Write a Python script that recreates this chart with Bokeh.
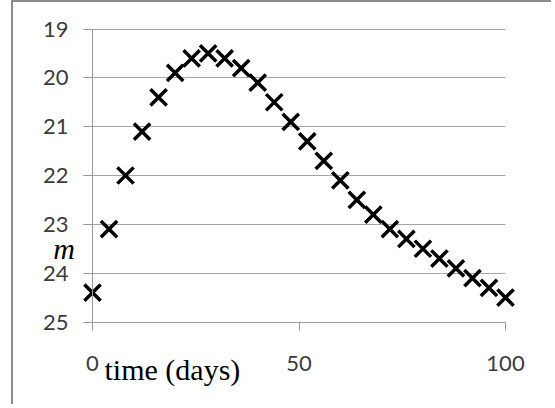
from bokeh.plotting import figure
from bokeh.models import Range1d, FixedTicker, Label, LinearAxis, BoxAnnotation
from bokeh.embed import file_html
from bokeh.resources import INLINE

# data
days = [0, 4, 8, 12, 16, 20, 24, 28, 32, 36, 40, 44, 48, 52, 56, 60,
        64, 68, 72, 76, 80, 84, 88, 92, 96, 100]
mags = [24.4, 23.1, 22.0, 21.1, 20.4, 19.9, 19.6, 19.5, 19.6, 19.8, 20.1,
        20.5, 20.9, 21.3, 21.7, 22.1, 22.5, 22.8, 23.1, 23.3, 23.5, 23.7,
        23.9, 24.1, 24.3, 24.5]
y_ticks = [19, 20, 21, 22, 23, 24, 25]
x_ticks = [0, 50, 100]
x_title = "time (days)"
y_title = "m"

AXIS = "#999999"
GRID = "#a6a6a6"
TXT = "#3b3b3b"

# layout: the frame fills the whole canvas so that the end markers and the
# titles are not clipped; axes are pinned at day 0 and magnitude 25.
W, H = 540, 404
X_LO, X_HI = 0, 100          # axis extent (data)
Y_LO, Y_HI = 19, 25
x_lo_px, x_hi_px = 79.0, 492.0   # canvas px of X_LO / X_HI
y_lo_px, y_hi_px = 26.5, 319.5   # canvas px of Y_LO / Y_HI
sx = (x_hi_px - x_lo_px) / (X_HI - X_LO)
sy = (y_hi_px - y_lo_px) / (Y_HI - Y_LO)
x_range = Range1d(X_LO - x_lo_px / sx, X_LO + (W - x_lo_px) / sx)
y_range = Range1d(Y_HI + (H - y_hi_px) / sy, Y_LO - y_lo_px / sy)

p = figure(width=W, height=H, output_backend="svg", toolbar_location=None,
           x_range=x_range, y_range=y_range,
           x_axis_location=None, y_axis_location=None,
           min_border=0,
           styles={"border-left": "2px solid #8c8c8c",
                   "border-top": "2px solid #8c8c8c",
                   "margin-left": "11px"})
p.outline_line_color = None
p.background_fill_color = "white"
p.border_fill_color = "white"

xaxis = LinearAxis(ticker=FixedTicker(ticks=x_ticks), bounds=(X_LO, X_HI),
                   fixed_location=Y_HI)
yaxis = LinearAxis(ticker=FixedTicker(ticks=y_ticks), bounds=(Y_LO, Y_HI),
                   fixed_location=X_LO)
for ax in (xaxis, yaxis):
    ax.axis_line_color = AXIS
    ax.axis_line_width = 1
    ax.major_tick_line_color = AXIS
    ax.major_tick_in = 0
    ax.minor_tick_line_color = None
    ax.major_label_text_font = "Lato"
    ax.major_label_text_font_size = "22px"
    ax.major_label_text_color = TXT
xaxis.major_tick_out = 8
xaxis.major_label_standoff = 26
yaxis.major_tick_out = 9
yaxis.major_label_standoff = 15
p.add_layout(xaxis, "below")
p.add_layout(yaxis, "left")

p.xgrid.visible = False
p.ygrid.ticker = FixedTicker(ticks=y_ticks)
p.ygrid.grid_line_color = GRID
p.ygrid.grid_line_width = 1

# grid lines run from the tick ends (9 px left of day 0) to day 100 only
tick_px = 9
p.add_layout(BoxAnnotation(right=X_LO - tick_px / sx, fill_color="white",
                           fill_alpha=1.0, line_color=None, level="underlay"))
p.add_layout(BoxAnnotation(left=X_HI, fill_color="white", fill_alpha=1.0,
                           line_color=None, level="underlay"))

p.scatter(days, mags, marker="x", size=23, line_width=3.5, line_color="black")

# titles (positions in data units, placed where the reference has them)
p.add_layout(Label(x=X_LO + 12 / sx, y=Y_HI + 47 / sy, text=x_title,
                   text_font="Liberation Serif", text_font_size="30px",
                   text_color="black", text_baseline="alphabetic",
                   text_align="left"))
p.add_layout(Label(x=X_LO - 28.5 / sx, y=Y_HI - 74 / sy, text=y_title,
                   text_font="Liberation Serif", text_font_style="italic",
                   text_font_size="30px", text_color="black",
                   text_baseline="alphabetic", text_align="center"))

open("out.html", "w").write(file_html(p, INLINE))
